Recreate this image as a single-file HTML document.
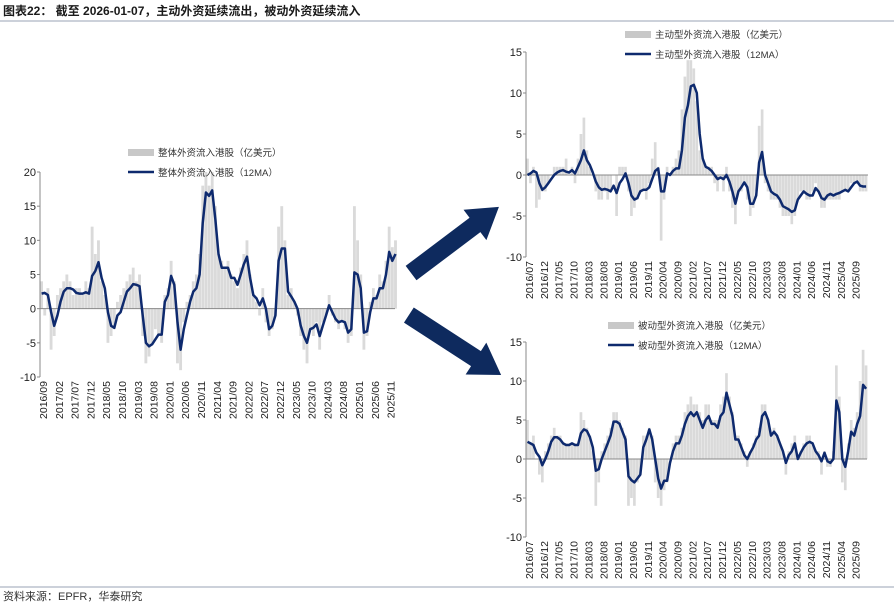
<!DOCTYPE html>
<html><head><meta charset="utf-8"><style>
body{margin:0;background:#fff;}
svg{display:block;font-family:"Liberation Sans","Noto Sans CJK SC",sans-serif;}
</style></head><body>
<svg id="root" width="894" height="615" viewBox="0 0 894 615">
<text x="3" y="15" font-size="12" font-weight="bold" fill="#1a1a1a">图表22：  截至 2026-01-07，主动外资延续流出，被动外资延续流入</text>
<line x1="0" y1="21" x2="894" y2="21" stroke="#9aa3b5" stroke-width="1"/>
<line x1="0" y1="587" x2="894" y2="587" stroke="#9aa3b5" stroke-width="1"/>
<text x="3" y="600" font-size="11" fill="#333">资料来源：EPFR，华泰研究</text>
<g transform="translate(455,240) rotate(-37)"><polygon points="-55,-9 25,-9 25,-19 55,0 25,19 25,9 -55,9" fill="#0e2a5e"/></g>
<g transform="translate(455,345) rotate(33)"><polygon points="-55,-9 25,-9 25,-19 55,0 25,19 25,9 -55,9" fill="#0e2a5e"/></g>
<g id="c1"></g>
<g id="c2"></g>
<g id="c3"></g>
</svg>
<script>
const NS="http://www.w3.org/2000/svg";
// Chart 1: total (monthly from 2016/09)
const totalStart=[2016,9];
const totalBars=[4,-1,3,-6, -4,2,3,4,5,4,2,3,3,2,4,3, 12,8,10,4,2,-5,-4,-3,1,2,3,4, 5,6,4,5,-4,-8,-7,-5,-3,-4,-5,2, 3,7,4,-8,-9,-2,1,2,4,5,8,18, 20,18,20,15,8,7,6,7,5,4,3,6, 8,10,5,2,1,-1,3,-2,-4,-3,-1,12, 15,10,2,3,1,-1,-4,-6,-8,-3,-4,-2, -6,-2,-1,2,-1,-2,-3,-2,-3,-5,-4,15, 10,5,-6,-4,1,3,2,5,4,7,12,9, 10];
const totalMA=[2.2,2.3,2.0,-0.5, -2.5,-1.0,1.0,2.5,3.0,3.0,2.8,2.3,2.2,2.2,2.4,2.2, 4.8,5.5,6.8,4.5,3.0,-0.5,-2.5,-2.8,-1.0,-0.5,1.0,2.5, 3.0,3.6,3.5,3.3,-1.0,-5.0,-5.5,-5.2,-4.5,-3.8,-3.8,1.0, 2.0,4.8,3.5,-2.0,-6.0,-3.0,-1.0,1.0,2.5,3.0,5.0,12.5, 17.0,16.5,17.3,13.0,8.0,6.0,6.0,6.0,4.5,4.5,3.5,5.0, 6.5,7.6,4.5,2.0,1.5,0.5,1.5,0,-3.0,-2.5,-1.0,7.0, 8.8,8.8,2.5,1.8,1.0,0,-2.5,-4.0,-5.0,-3.0,-2.8,-2.3, -4.0,-2.5,-1.0,0.5,-0.5,-1.5,-2.0,-1.8,-2.0,-3.5,-3.0,5.3, 5.0,3.0,-3.5,-3.3,-0.5,1.5,1.5,3.0,3.0,5.0,8.3,7.0, 8.0];
const totalTicks=[20,15,10,5,0,-5,-10];
// Chart 2: active (monthly from 2016/07)
const activeStart=[2016,7];
const activeBars=[2,-1,1,-4,-3,-2, -2,-1,0,1,1,1,1,2,0,1,-1,2, 5,7,3,1,0,-2,-3,-3,-2,-3,-2,0, -5,1,1,1,-2,-5,-4,-3,-2,-2,-3,-1, 2,4,1,-8,-3,1,0,1,2,3,8,12, 14,14,13,9,3,2,1,1,1,-1,-2,0, -2,1,-2,-4,-6,-2,-2,-1,-3,-5,-4,-2, 6,8,-1,-2,-3,-3,-3,-4,-5,-5,-5,-6, -5,-3,-2,-2,-3,-3,-2,-1,-2,-4,-4,-3, -3,-3,-3,-3,-2,-2,-2,-1,-1,-1,-2,-2, -2];
const activeMA=[0,0.2,0.5,0.3,-1.0,-1.8, -1.5,-1.0,-0.5,0,0.3,0.5,0.6,0.4,0.3,0.6,0.2,1.0, 1.8,3.0,1.8,1.2,0.3,-0.8,-1.5,-1.8,-1.7,-1.8,-2.0,-1.3, -2.2,-1.0,-0.5,0.2,-1.0,-2.5,-3.0,-2.8,-2.0,-1.8,-1.8,-1.5, -0.5,0.5,0.8,-2.0,-2.0,0.2,0.0,0.5,0.8,0.8,3.0,7.0, 8.5,10.8,11.0,10.0,5.0,2.0,1.0,0.8,0.5,0,-0.5,-0.3, -0.5,0,-0.8,-2.0,-3.5,-2.0,-1.5,-0.9,-1.5,-3.5,-3.5,-2.5, 1.5,2.8,0,-1.0,-2.0,-2.3,-2.5,-3.0,-3.8,-4.0,-4.2,-4.5, -4.3,-3.0,-2.5,-2.0,-2.3,-2.5,-2.5,-1.6,-2.0,-2.8,-3.0,-2.5, -2.3,-2.5,-2.3,-2.2,-2.0,-1.8,-2.0,-1.5,-1.0,-0.8,-1.3,-1.4, -1.4];
const activeTicks=[15,10,5,0,-5,-10];
// Chart 3: passive (monthly from 2016/07)
const passiveStart=[2016,7];
const passiveBars=[5,2,3,0,-2,-3, 1,2,3,4,3,3,2,2,2,2,2,2, 6,5,4,3,1,-6,-3,1,2,3,4,6, 6,5,4,3,-6,-5,-6,-3,-2,3,3,4, 3,-3,-5,-6,-4,-3,0,2,3,3,4,6, 7,8,7,7,6,5,7,7,5,5,5,7, 8,11,8,6,3,3,2,1,-1,1,2,3, 4,7,7,5,3,4,3,2,1,-2,1,2, 3,0,1,2,3,3,2,1,1,-2,1,-1, -1,1,12,8,-3,-4,2,5,4,6,10,14, 12];
const passiveMA=[2.2,2.0,1.8,0.8,0.3,-0.8, 0,1.0,2.2,2.8,2.8,2.5,2.0,1.8,1.8,2.0,1.8,1.8, 3.3,3.8,3.6,2.8,1.5,-1.5,-1.3,0,1.0,2.0,3.0,4.8, 4.8,4.5,3.5,2.5,-2.2,-2.7,-3.0,-2.5,-2.0,1.5,2.5,3.8, 2.5,0,-2.5,-3.8,-2.8,-2.8,-0.5,1.0,2.0,2.0,3.0,4.5, 5.5,6.0,5.5,6.0,5.0,4.0,5.0,5.5,4.5,4.5,4.0,5.5, 6.0,8.5,7.0,5.5,2.5,2.5,1.5,0.5,0,0.8,1.5,2.5, 3.0,5.5,6.0,5.0,3.0,3.5,3.0,2.0,1.0,-0.5,0.5,1.0, 2.0,0,0.8,1.5,2.0,2.2,2.0,1.0,0.5,-0.3,0.8,-0.3, -0.5,0,7.5,6.0,0,-1.0,1.0,3.5,3.0,4.5,5.5,9.5, 9.0];
const passiveTicks=[15,10,5,0,-5,-10];

function el(parent,tag,attrs){const e=document.createElementNS(NS,tag);for(const k in attrs)e.setAttribute(k,attrs[k]);parent.appendChild(e);return e;}

function drawChart(g,cfg){
  const {x0,x1,yTop,yBot,vMax,vMin,step,start,bars,ma,ticks,barLabel,lineLabel,legX,legY}=cfg;
  const sx=i=>x0+i*step+step/2;
  const sy=v=>yTop+(vMax-Math.max(vMin,Math.min(vMax,v)))/(vMax-vMin)*(yBot-yTop);
  const bg=el(g,'g',{});
  
  
  bars.forEach((v,i)=>{
    const y0=sy(0),y1=sy(v);
    const r=el(bg,'rect',{x:sx(i)-step*0.45,y:Math.min(y0,y1),width:step*0.9,height:Math.abs(y1-y0),fill:'#dadada'});
    
    
  });
  const ax=el(g,'line',{x1:x0,y1:yTop,x2:x0,y2:yBot,stroke:'#888','stroke-width':1});
  
  
  const zl=el(g,'line',{x1:x0,y1:sy(0),x2:x1,y2:sy(0),stroke:'#888','stroke-width':1});
  
  
  ticks.forEach(t=>{
    const tx=el(g,'text',{x:x0-4,y:sy(t)+4,'font-size':11,'text-anchor':'end',fill:'#222'});
    tx.textContent=t;
    
    
    el(g,'line',{x1:x0-3,y1:sy(t),x2:x0,y2:sy(t),stroke:'#888'});
  });
  for(let i=0;i<ma.length;i+=5){
    let m=start[1]-1+i;const yr=start[0]+Math.floor(m/12);const mo=m%12+1;
    const x=x0+i*step+3;
    const tx=el(g,'text',{x:0,y:0,'font-size':10.5,'text-anchor':'end',fill:'#222',transform:`translate(${x+4},${yBot+4}) rotate(-90)`});
    tx.textContent=yr+'/'+String(mo).padStart(2,'0');
    
    
  }
  const pts=ma.map((v,i)=>sx(i).toFixed(1)+','+sy(v).toFixed(1)).join(' ');
  const pl=el(g,'polyline',{points:pts,fill:'none',stroke:'#0e2a6e','stroke-width':2.5,'stroke-linejoin':'round'});
  
  
  const l1=el(g,'rect',{x:legX,y:legY-6,width:26,height:7,fill:'#c8c8c8'});
  
  
  const t1=el(g,'text',{x:legX+30,y:legY+1,'font-size':9.5,fill:'#333'});t1.textContent=barLabel;
  
  
  const l2=el(g,'line',{x1:legX,y1:legY+17,x2:legX+26,y2:legY+17,stroke:'#0e2a6e','stroke-width':2.5});
  
  
  const t2=el(g,'text',{x:legX+30,y:legY+21,'font-size':9.5,fill:'#333'});t2.textContent=lineLabel;
  
  
}
drawChart(document.getElementById('c1'),{x0:40,x1:395,yTop:172,yBot:377,vMax:20,vMin:-10,step:3.16,start:totalStart,bars:totalBars,ma:totalMA,ticks:totalTicks,barLabel:'整体外资流入港股（亿美元）',lineLabel:'整体外资流入港股（12MA）',legX:128,legY:155});
drawChart(document.getElementById('c2'),{x0:526,x1:868,yTop:52,yBot:257,vMax:15,vMin:-10,step:2.97,start:activeStart,bars:activeBars,ma:activeMA,ticks:activeTicks,barLabel:'主动型外资流入港股（亿美元）',lineLabel:'主动型外资流入港股（12MA）',legX:625,legY:37});
drawChart(document.getElementById('c3'),{x0:526,x1:867,yTop:342,yBot:537,vMax:15,vMin:-10,step:2.97,start:passiveStart,bars:passiveBars,ma:passiveMA,ticks:passiveTicks,barLabel:'被动型外资流入港股（亿美元）',lineLabel:'被动型外资流入港股（12MA）',legX:608,legY:328});
</script>
</body></html>
